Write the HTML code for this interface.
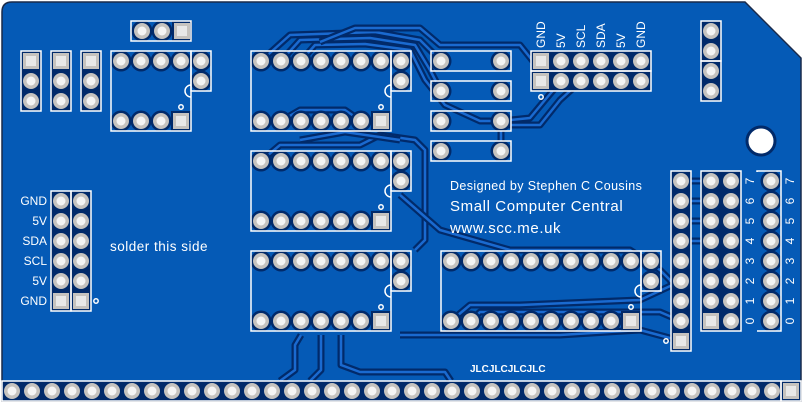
<!DOCTYPE html>
<html><head><meta charset="utf-8"><style>
html,body{margin:0;padding:0;background:#fff;}
svg{display:block;}
text{font-family:"Liberation Sans",sans-serif;fill:#fff;}
</style></head><body>
<svg id="s" width="803" height="403" viewBox="0 0 803 403" xmlns="http://www.w3.org/2000/svg">
<path d="M2,12 Q2,2 12,2 L745,2 L801,58 L801,401 L2,401 Z" fill="#055ab6" stroke="#1a2a4a" stroke-width="1.5"/>
<g id="tr" fill="none" stroke-linejoin="round"></g>
<g id="fills"></g>
<g id="pads"></g>
<g fill="none" stroke="#fff" stroke-width="1.5">
<rect x="131" y="21" width="60" height="20"/>
<rect x="21" y="51" width="20" height="60"/><rect x="51" y="51" width="20" height="60"/><rect x="81" y="51" width="20" height="60"/>
<rect x="111" y="51" width="80" height="80"/><rect x="191" y="51" width="20" height="40"/>
<rect x="251" y="51" width="140" height="80"/><rect x="391" y="51" width="20" height="40"/>
<rect x="251" y="151" width="140" height="80"/><rect x="391" y="151" width="20" height="40"/>
<rect x="251" y="251" width="140" height="80"/><rect x="391" y="251" width="20" height="40"/>
<rect x="431" y="51" width="80" height="20"/><rect x="431" y="81" width="80" height="20"/><rect x="431" y="111" width="80" height="20"/><rect x="431" y="141" width="80" height="20"/>
<rect x="531" y="51" width="120" height="20"/><rect x="531" y="71" width="120" height="20"/>
<rect x="701" y="21" width="20" height="40"/><rect x="701" y="61" width="20" height="40"/>
<rect x="441" y="251" width="200" height="80"/><rect x="641" y="251" width="20" height="40"/>
<rect x="671" y="171" width="20" height="180"/>
<rect x="701" y="171" width="40" height="160"/>
<path d="M757,172 L757,171 L781,171 L781,331 L757,331"/>
<rect x="51" y="191" width="20" height="120"/><rect x="71" y="191" width="20" height="120"/>
<rect x="2" y="381" width="779" height="20"/><rect x="781" y="381" width="20" height="20"/>
<path d="M191,85 A6,6 0 0 0 191,97"/><path d="M391,85 A6,6 0 0 0 391,97"/><path d="M391,185 A6,6 0 0 0 391,197"/><path d="M391,285 A6,6 0 0 0 391,297"/><path d="M641,285 A6,6 0 0 0 641,297"/>
<circle cx="181" cy="107" r="2.2"/><circle cx="381" cy="107" r="2.2"/><circle cx="381" cy="207" r="2.2"/><circle cx="381" cy="307" r="2.2"/><circle cx="631" cy="307" r="2.2"/>
<circle cx="541" cy="97" r="2.2"/><circle cx="666" cy="341" r="2.2"/><circle cx="96" cy="301" r="2.2"/>
</g>
<circle cx="761" cy="141" r="14" fill="#fff" stroke="#012a6a" stroke-width="3"/>
<g font-size="12" text-anchor="end">
<text x="47" y="205">GND</text><text x="47" y="225">5V</text><text x="47" y="245">SDA</text><text x="47" y="265">SCL</text><text x="47" y="285">5V</text><text x="47" y="305">GND</text>
</g>
<g font-size="12">
<text transform="translate(545,48) rotate(-90)">GND</text>
<text transform="translate(565,48) rotate(-90)">5V</text>
<text transform="translate(585,48) rotate(-90)">SCL</text>
<text transform="translate(605,48) rotate(-90)">SDA</text>
<text transform="translate(625,48) rotate(-90)">5V</text>
<text transform="translate(645,48) rotate(-90)">GND</text>
</g>
<g id="nums" font-size="12"></g>
<text x="110" y="251" font-size="13.5" letter-spacing="0.5">solder this side</text>
<text x="450" y="190" font-size="12.5" letter-spacing="0.4">Designed by Stephen C Cousins</text>
<text x="450" y="211" font-size="15" letter-spacing="0.6">Small Computer Central</text>
<text x="450" y="233" font-size="15" letter-spacing="0.6">www.scc.me.uk</text>
<text x="470" y="372" font-size="10" font-weight="bold">JLCJLCJLCJLC</text>
</svg>
<script>
var NS="http://www.w3.org/2000/svg";
function el(p,t,a){var e=document.createElementNS(NS,t);for(var k in a)e.setAttribute(k,a[k]);p.appendChild(e);return e;}
var P=document.getElementById('pads'),F=document.getElementById('fills'),T=document.getElementById('tr');
var NV="#012a6a";
[[21,51,20,60],[51,51,20,60],[81,51,20,60],[701,21,20,80],[51,191,40,120],[671,171,20,180],[701,171,40,160],[2,381,799,20],[531,51,120,40]].forEach(function(r){el(F,'rect',{x:r[0],y:r[1],width:r[2],height:r[3],fill:NV});});
function tr(pts){var d='M'+pts.join(' L');el(T,'path',{d:d,stroke:NV,'stroke-width':7});el(T,'path',{d:d,stroke:'#1a6ad0','stroke-width':2.5});}
tr([[261,61],[290,35],[375,32],[420,40],[441,61]]);
tr([[281,61],[300,40],[370,38],[415,45],[430,70],[441,91]]);
tr([[301,61],[315,45],[365,44],[410,50],[425,80],[445,105],[480,121],[501,121]]);
tr([[320,42],[355,28],[420,28],[440,45],[520,45],[540,70],[541,81]]);
tr([[501,121],[530,118],[545,100],[561,81]]);
tr([[501,125],[540,125],[560,100],[581,81]]);
tr([[501,121],[501,151]]);
tr([[281,121],[300,110],[345,110],[361,121]]);
tr([[261,161],[280,145],[360,145],[380,135],[415,140],[425,150],[425,240],[415,250]]);
tr([[300,140],[345,132],[400,140]]);
tr([[321,335],[321,370],[310,381]]);
tr([[301,335],[295,345],[295,370],[280,381]]);
tr([[341,335],[341,365],[360,372],[445,372],[451,381]]);
tr([[400,195],[440,230],[510,250],[630,250],[660,270],[670,280],[681,301]]);
tr([[451,321],[470,305],[520,305],[640,300],[681,281]]);
tr([[471,321],[480,312],[660,312],[681,321]]);
tr([[400,335],[560,335],[640,330],[681,341]]);
tr([[681,181],[711,181]]);tr([[681,201],[711,201]]);tr([[681,221],[711,221]]);tr([[681,241],[711,241]]);
function pad(x,y,sq){if(sq){el(P,'rect',{x:x-10,y:y-10,width:20,height:20,fill:NV});el(P,'rect',{x:x-8,y:y-8,width:16,height:16,fill:'#c6c3bf'});el(P,'rect',{x:x-5,y:y-5,width:10,height:10,fill:'#e8e8e8'});}
else{el(P,'circle',{cx:x,cy:y,r:10.5,fill:NV});el(P,'circle',{cx:x,cy:y,r:8,fill:'#c6c3bf'});el(P,'circle',{cx:x,cy:y,r:4.5,fill:'#f4f4f4'});}}
[142,162].forEach(function(x){pad(x,31)});pad(182,31,1);
[31,61,91].forEach(function(x){pad(x,61,1);pad(x,81);pad(x,101);});
[121,141,161,181].forEach(function(x){pad(x,61);pad(x,121,x==181)});pad(201,61);pad(201,81);
[61,161,261].forEach(function(y){for(var x=261;x<=381;x+=20){pad(x,y);pad(x,y+60,x==381);}pad(401,y);pad(401,y+20);});
[61,91,121,151].forEach(function(y){pad(441,y);pad(501,y);});
for(var x=541;x<=641;x+=20){pad(x,61,x==541);pad(x,81,x==541);}
[31,51,71,91].forEach(function(y){pad(711,y)});
for(var x=451;x<=631;x+=20){pad(x,261);pad(x,321,x==631);}pad(651,261);pad(651,281);
for(var y=181;y<=341;y+=20)pad(681,y,y==341);
for(var y=181;y<=321;y+=20){pad(711,y,y==321);pad(731,y);pad(771,y);}
for(var y=201;y<=301;y+=20){pad(61,y,y==301);pad(81,y,y==301);}
for(var x=12;x<=772;x+=20)pad(x,391);pad(791,391,1);
var N=document.getElementById('nums');
for(var i=0;i<8;i++){var y=321-i*20;[750,790].forEach(function(x){var t=el(N,'text',{transform:'translate('+(x+4)+','+y+') rotate(-90)','text-anchor':'middle'});t.textContent=i;});}
</script>
</body></html>
